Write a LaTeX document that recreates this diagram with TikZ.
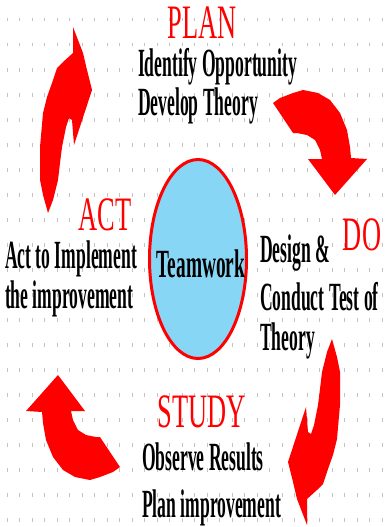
\documentclass[tikz,border=0pt]{standalone}
\usepackage{fontspec}
\setmainfont{Liberation Serif}
\usetikzlibrary{shapes.geometric}

\definecolor{hubblue}{RGB}{135,214,246}
\definecolor{dotgray}{RGB}{195,195,195}

% outline of the two long arrows (the lower one is this one turned round)
\newcommand{\upcurl}{(73,27) -- (78,40) -- (83,53) -- (87,70) -- (92,90)
  -- (74,145) -- (72,120) -- (69,118) -- (66,127) -- (62,147) -- (60,163)
  -- (58,180) -- (53,200) -- (48,213) -- (43,195) -- (40,180) -- (40,147)
  -- (43,113) -- (47,97) -- (52,83) -- (57,68) -- (63,62) -- (73,53) -- cycle}
% outline of the two short arrows
\newcommand{\downhook}{(273,103) -- (280,98) -- (293,93) -- (303,90)
  -- (318,93) -- (330,100) -- (340,113) -- (347,130) -- (350,147)
  -- (351,158) -- (367,159) -- (335,195) -- (308,159) -- (322,159)
  -- (320,150) -- (315,140) -- (307,135) -- (297,133) -- (293,133) -- cycle}

\begin{document}
\begin{tikzpicture}[x=1pt, y=-1pt,
    stage/.style={text=red, font=\fontsize{48}{48}\selectfont, xscale=0.55, inner sep=0pt},
    note/.style={font=\bfseries\fontsize{40}{40}\selectfont, xscale=0.44, inner sep=0pt},
    curl/.style={fill=red}]
	\fill [white] (0,0) rectangle (388,527);
	\useasboundingbox (0,0) rectangle (388,527);

        % dotted paper
        \foreach \row in {0,...,20}
          \foreach \col in {0,...,30}
            \fill [dotgray] (6.7+12.5*\col, 18+25*\row) rectangle ++(1.2,3.5);

        % the four arrows
        \fill [curl] \upcurl;
        \fill [curl, rotate around={180:(190,276)}] \upcurl;
        \fill [curl] \downhook;
        \fill [curl, rotate around={180:(196.5,285)}] \downhook;

        % centre
        \node (hub) at (198,259) [ellipse, draw=red, line width=3pt, fill=hubblue,
          minimum width=97pt, minimum height=199pt, inner sep=0pt] {};
        \node (teamwork) at (201,277) [note, xscale=1.1, anchor=base] {Teamwork};

        % plan
        \node (plan) at (202,38) [stage, anchor=base] {PLAN};
        \node (identify) at (138,76) [note, anchor=base west] {Identify Opportunity};
        \node (develop) at (138,115) [note, anchor=base west] {Develop Theory};

        % do
        \node (do) at (362,250) [stage, anchor=base] {DO};
        \node (design) at (260,262) [note, anchor=base west] {Design \&};
        \node (conduct) at (260,310) [note, anchor=base west] {Conduct Test of};
        \node (theory) at (260,350) [note, anchor=base west] {Theory};

        % study
        \node (study) at (202,427) [stage, anchor=base] {STUDY};
        \node (observe) at (142,470) [note, anchor=base west] {Observe Results};
        \node (improve) at (142,517) [note, anchor=base west] {Plan improvement};

        % act
        \node (act) at (105,230) [stage, anchor=base] {ACT};
        \node (implement) at (5,268) [note, anchor=base west] {Act to Implement};
        \node (better) at (5,308) [note, anchor=base west] {the improvement};
\end{tikzpicture}
\end{document}
